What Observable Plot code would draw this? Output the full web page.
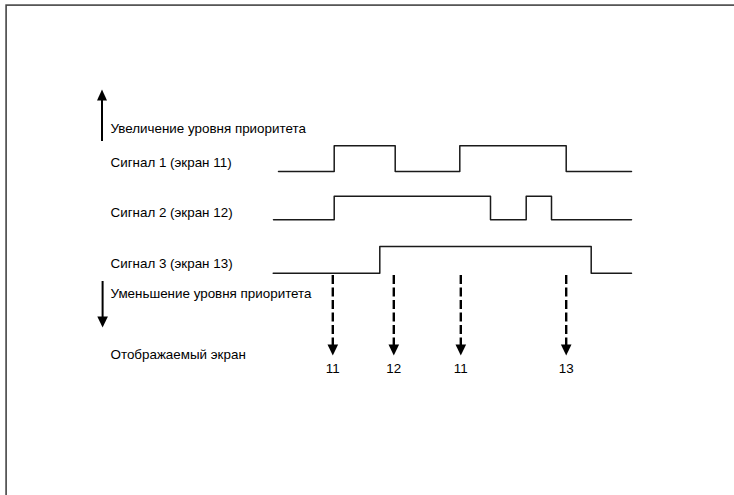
<!DOCTYPE html>
<html>
<head>
<meta charset="utf-8">
<script src="https://cdn.jsdelivr.net/npm/d3@7"></script>
<script src="https://cdn.jsdelivr.net/npm/@observablehq/plot@0.6"></script>
<style>
  html, body { margin: 0; padding: 0; background: #fff; }
  svg { display: block; }
</style>
</head>
<body>
<div id="chart"></div>
<script>
// ---- data ----
const signalNames = ["Сигнал 1 (экран 11)", "Сигнал 2 (экран 12)", "Сигнал 3 (экран 13)"];
// transition times (diagram time units) and level after each transition
const signal1Times  = [6, 61.7, 122.7, 187.3, 293.7, 359];
const signal1Levels = [0, 1, 0, 1, 0, 0];
const signal2Times  = [1, 61.7, 218, 253.7, 279, 359];
const signal2Levels = [0, 1, 0, 1, 0, 0];
const signal3Times  = [0.7, 107.3, 318.7, 359];
const signal3Levels = [0, 1, 0, 0];
const rowLow  = [171, 219.3, 272.7];
const rowHigh = [145.3, 195.7, 246];
const labelY  = [166.5, 216.5, 267];

const switchTimes  = [60.3, 121.3, 188.3, 293.7];
const shownScreens = ["11", "12", "11", "13"];

const upLabel   = "Увеличение уровня приоритета";
const downLabel = "Уменьшение уровня приоритета";
const shownLabel = "Отображаемый экран";

// ---- build tables ----
const times = [signal1Times, signal2Times, signal3Times];
const levels = [signal1Levels, signal2Levels, signal3Levels];
const signalPts = [];
times.forEach((ts, i) => ts.forEach((t, j) => signalPts.push({
  s: signalNames[i], t, y: levels[i][j] ? rowHigh[i] : rowLow[i]
})));
const signalLabels = signalNames.map((name, i) => ({name, y: labelY[i]}));
const switches = switchTimes.map((t, i) => ({t, screen: shownScreens[i]}));

const headUp = {draw(ctx) { ctx.moveTo(0, 0); ctx.lineTo(5, 11); ctx.lineTo(-5, 11); ctx.closePath(); }};
const headDown = {draw(ctx) { ctx.moveTo(0, 0); ctx.lineTo(5.3, -11); ctx.lineTo(-5.3, -11); ctx.closePath(); }};

const legendT = -162;      // text column (time units left of signals)
const axisArrowT = -170.5; // priority arrows

const font = "Liberation Sans, Arial, sans-serif";
const fs = 13.4;

const chart = Plot.plot({
  width: 734,
  height: 495,
  margin: 0,
  x: {type: "linear", domain: [0, 360], range: [272, 632], axis: null},
  y: {type: "linear", domain: [0, 495], range: [0, 495], axis: null},
  style: {background: "#fff", fontFamily: font},
  marks: [
    Plot.frame({stroke: "#444", strokeWidth: 1.6, insetLeft: 5.6, insetTop: 4.6, insetRight: -6, insetBottom: -6}),
    // signals
    Plot.line(signalPts, {x: "t", y: "y", z: "s", curve: "step-after", stroke: "#1a1a1a", strokeWidth: 1.5}),
    // priority arrows
    Plot.ruleX([axisArrowT], {y1: 141, y2: 99, stroke: "#000", strokeWidth: 2}),
    Plot.dot([{t: axisArrowT, y: 89}], {x: "t", y: "y", symbol: headUp, fill: "#000", stroke: null}),
    Plot.ruleX([axisArrowT + 0.6], {y1: 281, y2: 318, stroke: "#000", strokeWidth: 2}),
    Plot.dot([{t: axisArrowT + 0.6, y: 327}], {x: "t", y: "y", symbol: headDown, fill: "#000", stroke: null}),
    // switch arrows
    Plot.ruleX(switches, {x: "t", y1: 275, y2: 345, stroke: "#000", strokeWidth: 2.4, strokeDasharray: "9,3.5"}),
    Plot.dot(switches, {x: "t", y: () => 355, symbol: headDown, fill: "#000", stroke: null}),
    Plot.text(switches, {x: "t", y: () => 372, text: "screen", textAnchor: "middle", lineAnchor: "bottom", fontSize: fs, fill: "#000"}),
    // labels
    Plot.text([upLabel], {x: () => legendT, y: () => 132, text: d => d, textAnchor: "start", lineAnchor: "bottom", fontSize: fs, fill: "#000"}),
    Plot.text(signalLabels, {x: () => legendT, y: "y", text: "name", textAnchor: "start", lineAnchor: "bottom", fontSize: fs, fill: "#000"}),
    Plot.text([downLabel], {x: () => legendT, y: () => 297, text: d => d, textAnchor: "start", lineAnchor: "bottom", fontSize: fs, fill: "#000"}),
    Plot.text([shownLabel], {x: () => legendT, y: () => 358, text: d => d, textAnchor: "start", lineAnchor: "bottom", fontSize: fs, fill: "#000"})
  ]
});
document.getElementById("chart").appendChild(chart);
</script>
</body>
</html>
